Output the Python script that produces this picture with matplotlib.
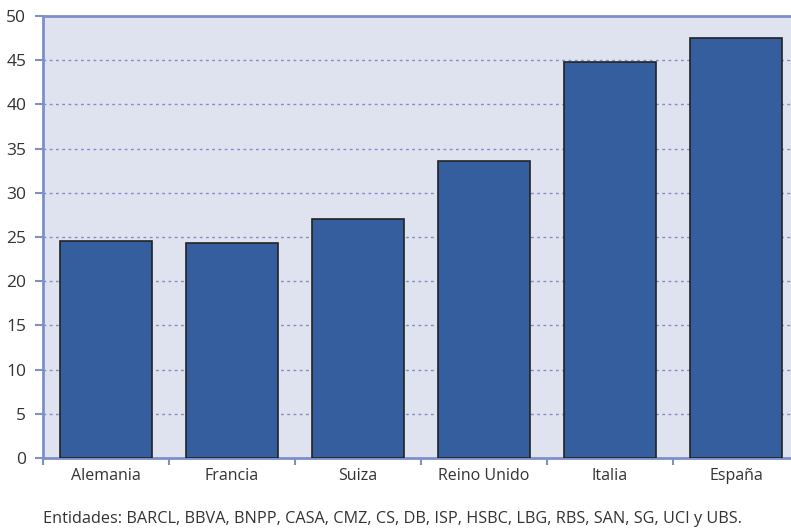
import numpy as np
import matplotlib.pyplot as plt

paises = ['Alemania', 'Francia', 'Suiza', 'Reino Unido', 'Italia', 'España']
valores = [24.5, 24.3, 27.0, 33.6, 44.8, 47.5]
nota = 'Entidades: BARCL, BBVA, BNPP, CASA, CMZ, CS, DB, ISP, HSBC, LBG, RBS, SAN, SG, UCI y UBS.'

azul = '#355e9e'
borde = '#7f8fc8'
fondo = '#dfe2ef'

plt.rcParams['font.family'] = ['Open Sans', 'DejaVu Sans']

fig = plt.figure(figsize=(7.91, 5.29), dpi=100)
ax = fig.add_axes([43/791, 1 - 458/529, 756/791, 442/529])
ax.set_facecolor(fondo)

x = np.arange(len(paises))
ax.bar(x, valores, width=0.73, color=azul, edgecolor='#222222', linewidth=1.2, zorder=3)

ax.set_xlim(-0.5, len(paises) - 0.5)
ax.set_ylim(0, 50)
ax.set_yticks(np.arange(0, 51, 5))
ax.yaxis.grid(True, linestyle=(0, (2, 2.5)), color=borde, linewidth=1.0, zorder=1)

ax.set_xticks(x)
ax.set_xticklabels(paises, fontsize=11.5, color='#333333')
ax.set_xticks(np.arange(-0.5, len(paises)), minor=True)
ax.tick_params(axis='x', which='major', length=0, pad=7)
ax.tick_params(axis='x', which='minor', length=5, color=borde, width=1.5, direction='out')
ax.tick_params(axis='y', length=6, color=borde, width=1.5, labelsize=12.5, labelcolor='#333333', pad=6)

for s in ['left', 'bottom', 'top']:
    ax.spines[s].set_color(borde)
    ax.spines[s].set_linewidth(2)
ax.spines['right'].set_visible(False)

fig.text(43/791, 1 - 519/529, nota, fontsize=11.7, color='#333333', va='center', ha='left')

fig.savefig('out.png', dpi=100)
